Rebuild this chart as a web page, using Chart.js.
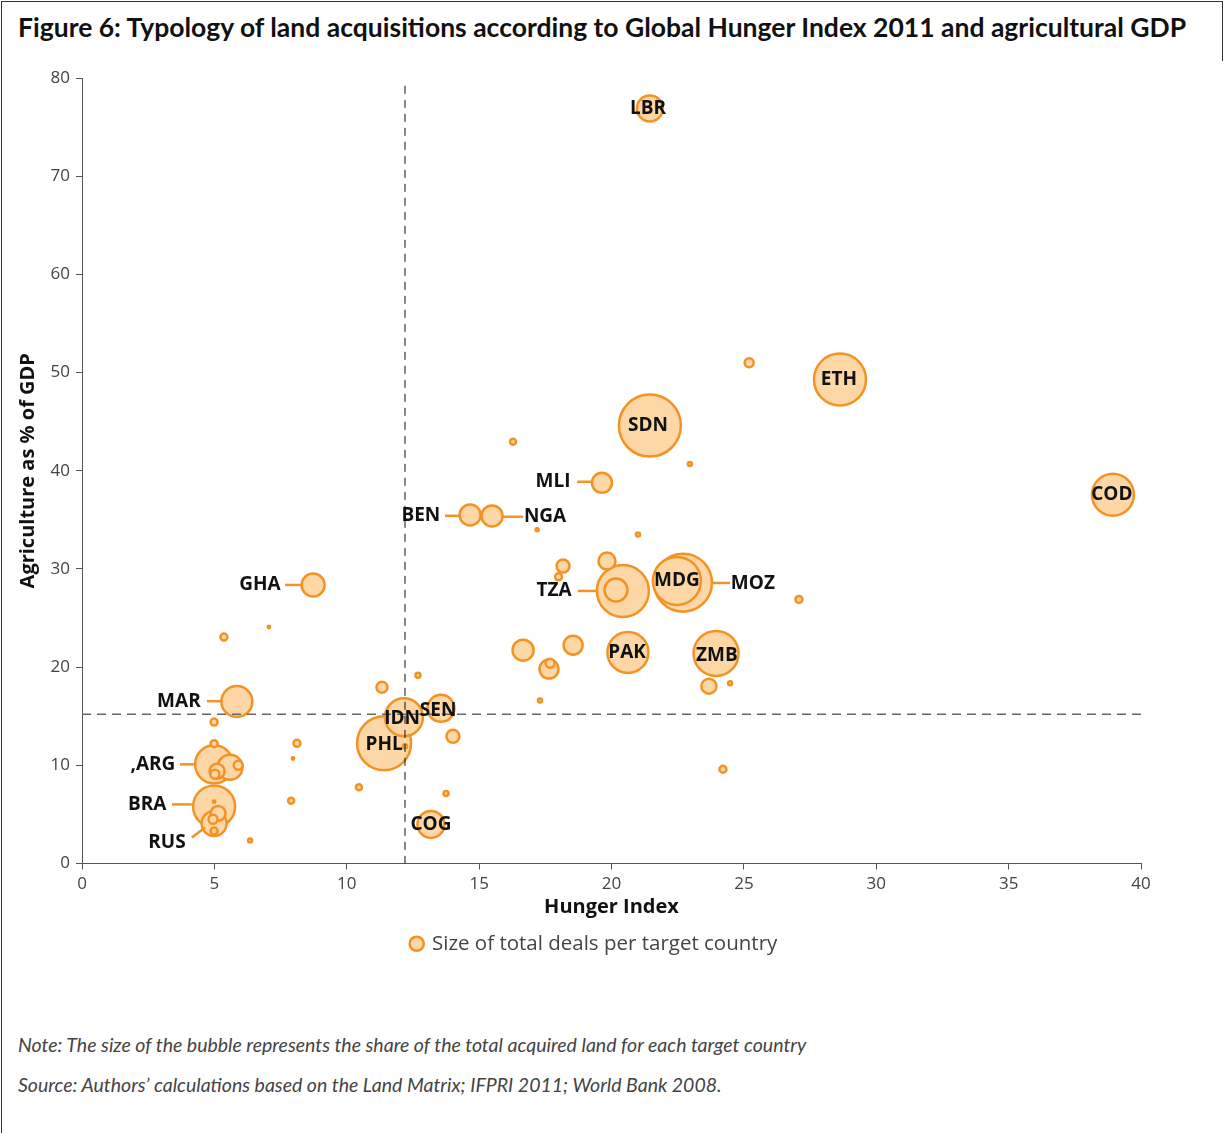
<!DOCTYPE html>
<html>
<head>
<meta charset="utf-8">
<script src="https://cdn.jsdelivr.net/npm/chart.js@4.4.1/dist/chart.umd.min.js"></script>
<style>
    body { margin: 0; background: #fff; width: 1224px; height: 1133px; position: relative; overflow: hidden; }
    #frame { position: absolute; left: 1px; top: 1px; width: 1221px; height: 1131px; border-left: 1.5px solid #333; border-top: 1.5px solid #333; }
    #frame-right { position: absolute; right: 1px; top: 1px; height: 60px; border-right: 1.5px solid #333; }
    #title { position: absolute; left: 18px; top: 11px; font: bold 26.5px Lato, sans-serif; color: #111; white-space: nowrap; }
    .note { position: absolute; left: 18px; font: italic 19.5px Lato, sans-serif; color: #444; white-space: nowrap; }
    #chart { position: absolute; left: 0; top: 0; }
</style>
</head>
<body>
<div id="frame"></div>
<div id="frame-right"></div>
<div id="title">Figure 6: Typology of land acquisitions according to Global Hunger Index 2011 and agricultural GDP</div>
<canvas id="chart" width="1224" height="1000"></canvas>
<div class="note" style="top:1033px">Note: The size of the bubble represents the share of the total acquired land for each target country</div>
<div class="note" style="top:1073px">Source: Authors’ calculations based on the Land Matrix; IFPRI 2011; World Bank 2008.</div>
<script>
// Hunger Index (x), agriculture share of GDP (y), bubble radius (share of acquired land)
const hunger = [21.45, 28.63, 21.45, 38.94, 25.2, 16.28, 22.96, 19.64, 14.66, 15.49,
                17.19, 21.0, 18.17, 19.83, 18.0, 20.43, 20.17, 22.47, 22.7, 27.08,
                8.73, 5.36, 7.06, 16.66, 18.55, 17.64, 17.68, 20.62, 23.95, 23.68,
                24.48, 24.21, 5.85, 4.99, 4.99, 4.99, 5.59, 5.9, 5.1, 5.02,
                8.12, 7.97, 4.99, 4.99, 5.14, 4.95, 4.99, 4.99, 6.35, 7.9,
                10.46, 11.33, 12.69, 11.41, 12.16, 12.2, 13.56, 14.01, 13.75, 13.18, 17.3];
const agriGdp = [76.9, 49.3, 44.6, 37.55, 51.0, 42.96, 40.7, 38.78, 35.5, 35.4,
                 34.0, 33.5, 30.3, 30.8, 29.2, 27.76, 27.86, 28.78, 28.6, 26.9,
                 28.37, 23.06, 24.08, 21.73, 22.24, 19.8, 20.4, 21.5, 21.4, 18.06,
                 18.37, 9.6, 16.5, 14.4, 12.2, 10.1, 9.8, 10.0, 9.4, 9.1,
                 12.24, 10.7, 5.8, 4.08, 5.1, 4.5, 3.3, 6.3, 2.35, 6.4,
                 7.76, 17.96, 19.18, 12.24, 14.9, 11.94, 15.8, 12.96, 7.14, 3.98, 16.6];
const dealSize = [13, 26, 31, 21, 4.5, 3, 2, 10, 10.5, 10.5,
                  1.5, 2, 6.5, 8.5, 3.5, 26, 11.5, 24, 29, 3.5,
                  11.5, 3.5, 1.2, 10.5, 9.5, 9.5, 4.5, 20.5, 22.5, 7.5,
                  2, 3.5, 15.5, 3.5, 3.5, 19, 12.5, 4.5, 7.5, 4.5,
                  3.5, 1.2, 21, 12.5, 7.5, 4.5, 3.5, 1.2, 2, 3,
                  3, 5.5, 2.5, 27, 19, 2, 13.5, 6.5, 2.5, 13.5, 2];

// country labels: text position and optional leader line, in data units
const labelText = ['LBR', 'ETH', 'SDN', 'COD', 'MLI', 'BEN', 'NGA', 'TZA', 'MDG', 'MOZ',
                   'GHA', 'PAK', 'ZMB', 'MAR', ',ARG', 'BRA', 'RUS', 'IDN', 'SEN', 'PHL', 'COG'];
const labelX = [21.38, 28.59, 21.38, 38.9, 17.79, 12.8, 17.49, 17.83, 22.47, 25.34,
                6.72, 20.59, 23.98, 3.66, 2.68, 2.46, 3.21, 12.09, 13.45, 11.41, 13.18];
const labelY = [76.84, 49.29, 44.59, 37.55, 38.88, 35.41, 35.31, 27.76, 28.78, 28.47,
                28.37, 21.53, 21.22, 16.53, 10.1, 6.02, 2.14, 14.8, 15.61, 12.14, 3.98];
const leaders = {
    'MLI': [18.7, 38.88, 19.26, 38.88],
    'BEN': [13.71, 35.41, 14.24, 35.41],
    'NGA': [15.9, 35.31, 16.66, 35.31],
    'TZA': [18.73, 27.76, 19.41, 27.76],
    'MOZ': [23.83, 28.57, 24.48, 28.57],
    'GHA': [7.67, 28.37, 8.27, 28.37],
    'MAR': [4.72, 16.53, 5.25, 16.53],
    ',ARG': [3.7, 10.1, 4.31, 10.1],
    'BRA': [3.4, 6.02, 4.15, 6.02],
    'RUS': [4.15, 2.65, 4.65, 3.67]
};

// reference lines
const hungerCut = 12.2;
const agriCut = 15.2;

const orange = '#F39325';
const peach = '#FDD7A5';

// larger bubbles first so that the small ones stay visible on top
const points = hunger.map((x, i) => ({ x: x, y: agriGdp[i], r: dealSize[i] }))
    .sort((a, b) => b.r - a.r);

const overlayPlugin = {
    id: 'overlay',
    afterDatasetsDraw(chart) {
        const ctx = chart.ctx;
        const xs = chart.scales.x;
        const ys = chart.scales.y;
        ctx.save();

        // vertical cut (black)
        ctx.strokeStyle = '#111';
        ctx.lineWidth = 1;
        ctx.setLineDash([8, 6]);
        ctx.beginPath();
        ctx.moveTo(xs.getPixelForValue(hungerCut), ys.getPixelForValue(79.2));
        ctx.lineTo(xs.getPixelForValue(hungerCut), ys.getPixelForValue(0));
        ctx.stroke();

        // horizontal cut (grey)
        ctx.strokeStyle = '#666';
        ctx.lineWidth = 1.5;
        ctx.setLineDash([9, 6]);
        ctx.beginPath();
        ctx.moveTo(xs.getPixelForValue(0), ys.getPixelForValue(agriCut));
        ctx.lineTo(xs.getPixelForValue(40), ys.getPixelForValue(agriCut));
        ctx.stroke();
        ctx.setLineDash([]);

        // leader lines
        ctx.strokeStyle = orange;
        ctx.lineWidth = 2.5;
        Object.keys(leaders).forEach(function(k) {
            const l = leaders[k];
            ctx.beginPath();
            ctx.moveTo(xs.getPixelForValue(l[0]), ys.getPixelForValue(l[1]));
            ctx.lineTo(xs.getPixelForValue(l[2]), ys.getPixelForValue(l[3]));
            ctx.stroke();
        });

        // country codes
        ctx.fillStyle = '#111';
        ctx.font = 'bold 19px "Open Sans", sans-serif';
        ctx.textAlign = 'center';
        ctx.textBaseline = 'middle';
        labelText.forEach(function(t, i) {
            ctx.fillText(t, xs.getPixelForValue(labelX[i]), ys.getPixelForValue(labelY[i]));
        });
        ctx.restore();
    }
};

const ctx = document.getElementById('chart').getContext('2d');
new Chart(ctx, {
    type: 'bubble',
    data: {
        datasets: [{
            label: 'Size of total deals per target country',
            data: points,
            backgroundColor: peach,
            borderColor: orange,
            borderWidth: 2.5
        }]
    },
    options: {
        responsive: false,
        animation: false,
        events: [],
        layout: { padding: { left: 48, right: 83, top: 78, bottom: 36 } },
        scales: {
            x: {
                type: 'linear',
                min: 0,
                max: 40,
                ticks: { stepSize: 5, color: '#444', padding: 4, font: { family: 'Open Sans', size: 17 } },
                grid: { drawOnChartArea: false, color: '#555', tickLength: 6 },
                border: { color: '#555', width: 1 },
                title: {
                    display: true,
                    text: 'Hunger Index',
                    color: '#111',
                    font: { family: 'Open Sans', size: 20, weight: 'bold' },
                    padding: { top: 0, bottom: 4 }
                },
                afterFit: function(scale) { scale.height = 60; }
            },
            y: {
                type: 'linear',
                min: 0,
                max: 80,
                ticks: { stepSize: 10, color: '#444', padding: 6, font: { family: 'Open Sans', size: 17 } },
                grid: { drawOnChartArea: false, color: '#555', tickLength: 6 },
                border: { color: '#555', width: 1 },
                title: {
                    display: true,
                    text: 'Agriculture as % of GDP',
                    color: '#111',
                    font: { family: 'Open Sans', size: 20, weight: 'bold' },
                    padding: { top: -32, bottom: 0 }
                },
                afterFit: function(scale) { scale.width = 34; }
            }
        },
        plugins: {
            legend: {
                position: 'bottom',
                labels: {
                    usePointStyle: true,
                    pointStyle: 'circle',
                    boxWidth: 10,
                    boxHeight: 10,
                    padding: 10,
                    color: '#444',
                    font: { family: 'Open Sans', size: 20.5 }
                }
            },
            tooltip: { enabled: false }
        }
    },
    plugins: [overlayPlugin]
});
</script>
</body>
</html>
